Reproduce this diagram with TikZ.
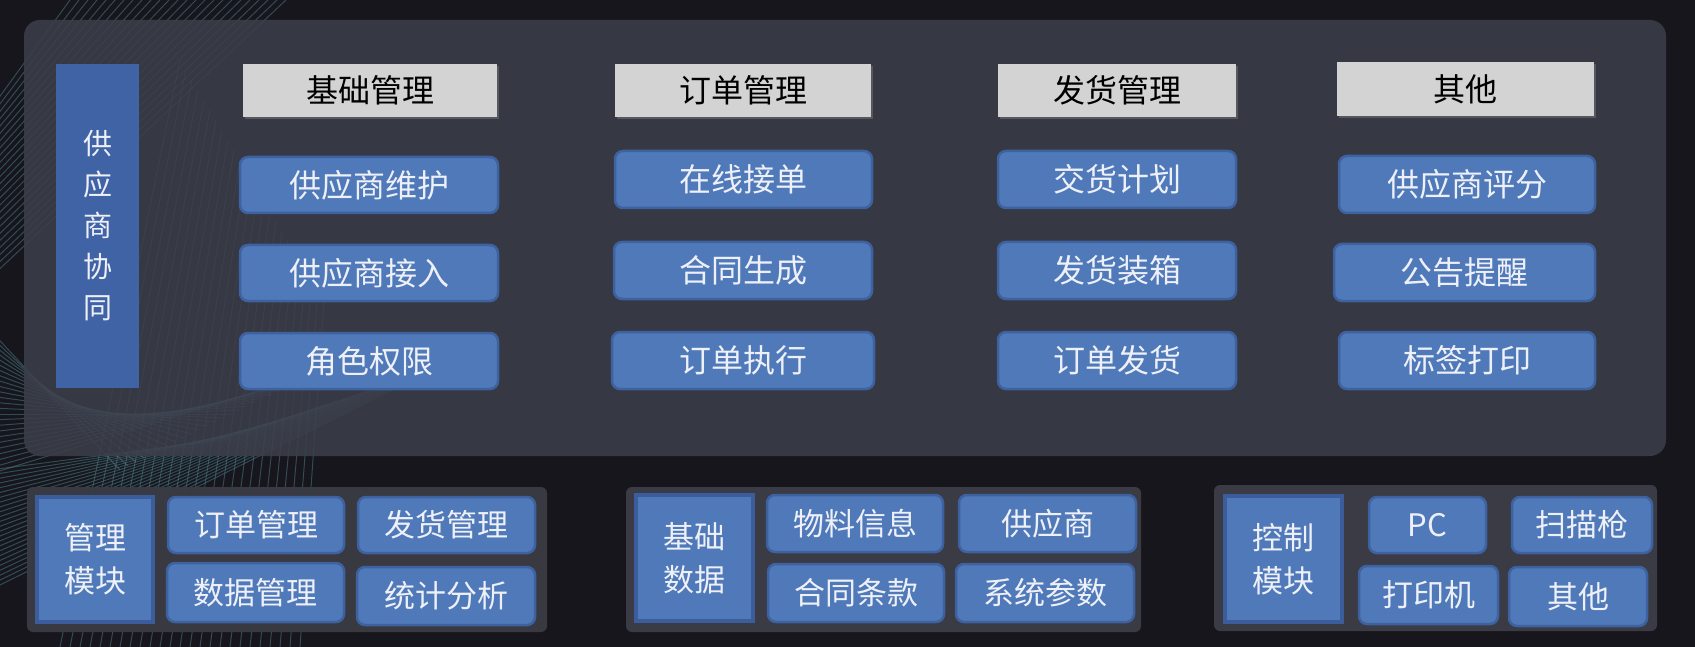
\documentclass[tikz,border=0pt]{standalone}
\usepackage{fontspec}
\newfontfamily\cjk{Noto Sans CJK SC}
\usetikzlibrary{shadows}
\definecolor{bg}{RGB}{22,22,28}
\definecolor{panelc}{RGB}{60,62,74}
\definecolor{grpc}{RGB}{58,59,68}
\definecolor{btnfill}{RGB}{79,121,185}
\definecolor{btnedge}{RGB}{62,98,160}
\definecolor{lbledge}{RGB}{60,93,155}
\definecolor{barfill}{RGB}{64,99,166}
\definecolor{hdrfill}{RGB}{211,211,211}
\definecolor{txt}{RGB}{238,240,248}
\definecolor{wire}{RGB}{78,128,142}
\tikzset{
  btn/.style={draw=btnedge, line width=2.5pt, fill=btnfill, rounded corners=8pt,
    text=txt, font=\cjk\fontsize{32}{32}\selectfont, inner sep=0pt},
  sbtn/.style={btn, font=\cjk\fontsize{31}{31}\selectfont},
  hdr/.style={fill=hdrfill, text=black, font=\cjk\fontsize{32}{32}\selectfont, inner sep=0pt,
    drop shadow={shadow xshift=2pt, shadow yshift=-2pt, opacity=0.45}},
  lbl/.style={draw=lbledge, line width=4pt, fill=btnfill, text=txt, align=center,
    font=\cjk\fontsize{31}{43}\selectfont, inner sep=0pt},
  vbar/.style={fill=barfill, text=txt, align=center, font=\cjk\fontsize{29}{41}\selectfont, inner sep=0pt},
  wireline/.style={draw=wire, opacity=0.5, line width=1pt},
}
\newcommand\mybox[7]{\node[#6, minimum width={#4-#2}, minimum height={#5-#3}] (#1) at ({(#2+#4)/2},{(#3+#5)/2}) {#7};}
\begin{document}
\begin{tikzpicture}[x=1pt,y=-1pt]
\useasboundingbox (0,0) rectangle (1695,647);
\fill[bg] (0,0) rectangle (1695,647);
% faint background line pattern
\begin{scope}
\clip (0,0) rectangle (520,647);
\foreach \i in {0,...,24}{
  \draw[wireline] (-10,{110+\i*7}) -- ({70+\i*9},0);
  \draw[wireline] (-10,{330+\i*6}) -- ({120+\i*8},{470-\i*4});
  \draw[wireline] ({60+\i*10},647) -- ({180+\i*6},{60+\i*10});
  \draw[wireline] (-10,{470+\i*5}) -- ({220+\i*9},{440-\i*3});
}
\end{scope}
% main panel
\fill[panelc, opacity=0.86, rounded corners=16pt] (24,20) rectangle (1666,456);
% vertical bar
\mybox{bar}{56}{64}{139}{388}{vbar}{供\\应\\商\\协\\同}
% headers
\mybox{h1}{243}{64}{497}{117}{hdr}{基础管理}
\mybox{h2}{615}{64}{871}{117}{hdr}{订单管理}
\mybox{h3}{998}{64}{1236}{117}{hdr}{发货管理}
\mybox{h4}{1337}{62}{1594}{116}{hdr}{其他}
% column 1
\mybox{a1}{240}{157}{498}{213}{btn}{供应商维护}
\mybox{a2}{240}{245}{498}{301}{btn}{供应商接入}
\mybox{a3}{240}{333}{498}{389}{btn}{角色权限}
% column 2
\mybox{b1}{615}{151}{872}{208}{btn}{在线接单}
\mybox{b2}{614}{242}{872}{299}{btn}{合同生成}
\mybox{b3}{612}{332}{874}{389}{btn}{订单执行}
% column 3
\mybox{c1}{998}{151}{1236}{208}{btn}{交货计划}
\mybox{c2}{998}{242}{1236}{299}{btn}{发货装箱}
\mybox{c3}{998}{332}{1236}{389}{btn}{订单发货}
% column 4
\mybox{d1}{1339}{156}{1595}{213}{btn}{供应商评分}
\mybox{d2}{1334}{244}{1595}{301}{btn}{公告提醒}
\mybox{d3}{1339}{332}{1595}{389}{btn}{标签打印}
% bottom group 1
\fill[grpc, opacity=0.95, rounded corners=6pt] (27,487) rectangle (547,632);
\mybox{g1}{37}{497}{153}{622}{lbl}{管理\\模块}
\mybox{g1a}{168}{497}{344}{553}{sbtn}{订单管理}
\mybox{g1b}{358}{497}{535}{553}{sbtn}{发货管理}
\mybox{g1c}{167}{563}{344}{622}{sbtn}{数据管理}
\mybox{g1d}{357}{567}{535}{625}{sbtn}{统计分析}
% bottom group 2
\fill[grpc, rounded corners=6pt] (626,487) rectangle (1141,632);
\mybox{g2}{636}{495}{753}{621}{lbl}{基础\\数据}
\mybox{g2a}{767}{495}{943}{552}{sbtn}{物料信息}
\mybox{g2b}{959}{495}{1136}{552}{sbtn}{供应商}
\mybox{g2c}{768}{564}{944}{622}{sbtn}{合同条款}
\mybox{g2d}{956}{564}{1134}{622}{sbtn}{系统参数}
% bottom group 3
\fill[grpc, rounded corners=6pt] (1214,485) rectangle (1657,631);
\mybox{g3}{1225}{496}{1342}{622}{lbl}{控制\\模块}
\mybox{g3a}{1369}{497}{1486}{553}{sbtn}{PC}
\mybox{g3b}{1512}{497}{1652}{553}{sbtn}{扫描枪}
\mybox{g3c}{1359}{566}{1498}{624}{sbtn}{打印机}
\mybox{g3d}{1509}{567}{1647}{626}{sbtn}{其他}
\end{tikzpicture}
\end{document}
